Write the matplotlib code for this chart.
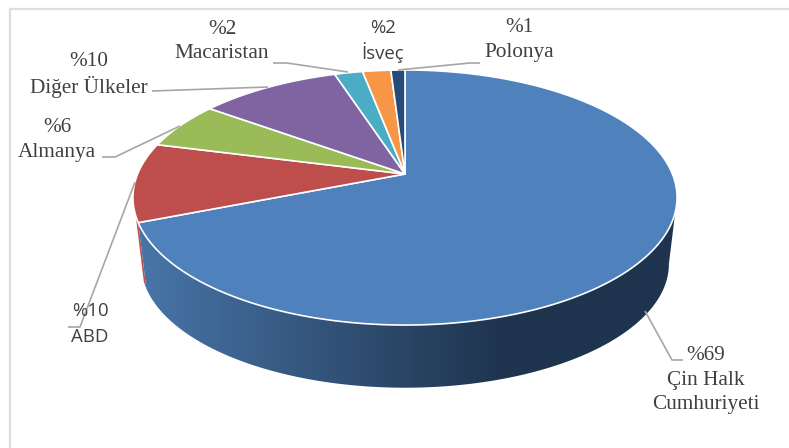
import numpy as np
import matplotlib
matplotlib.use("Agg")
import matplotlib.pyplot as plt
from matplotlib.patches import Polygon

countries = ["Çin Halk\nCumhuriyeti", "ABD", "Almanya", "Diğer Ülkeler", "Macaristan", "İsveç", "Polonya"]
shares = [69, 10, 6, 10, 2, 2, 1]
colors = ["#4f81bd", "#bd4e4b", "#9bbb59", "#8064a2", "#4bacc6", "#f79646", "#264b78"]

# pie geometry in pixels, the tilted disc is a perspective view of a circle
CX, CY = 405, 174
A, B, K = 267.4, 123.2, 0.1843
ELL_Y = 197.5
DEPTH_S, DEPTH_Y = 0.97, 264
WALL_START = 100.6  # rightmost point of the disc, degrees from the top


def top_points(t0, t1):
    t = np.radians(np.linspace(t0, t1, max(int(abs(t1 - t0) * 2), 2)))
    u, v = np.sin(t), np.cos(t)
    w = 1 + K * v
    return CX + A * u / w, CY - B * v / w


def bottom_points(x, y):
    return CX + DEPTH_S * (x - CX), DEPTH_Y + DEPTH_S * (y - ELL_Y)


fig = plt.figure(figsize=(7.89, 4.48), dpi=100)
ax = fig.add_axes([0, 0, 1, 1])
ax.set_xlim(0, 789)
ax.set_ylim(448, 0)
ax.axis("off")

# frame
ax.plot([10, 10], [448, 9.5], color="#dedede", lw=1.6, zorder=1)
ax.plot([10, 789], [9.5, 9.5], color="#dedede", lw=1.6, zorder=1)

edges = np.cumsum([0] + shares) * 3.6

# red sliver behind the blue wall
x, y = top_points(edges[1], edges[1] + 3)
bx, by = bottom_points(x, y)
ax.add_patch(Polygon(np.r_[np.c_[x, y], np.c_[bx, by][::-1]], fc=colors[1], ec="none", zorder=2))

# blue wall with the shading running left to right
x, y = top_points(WALL_START, edges[1])
bx, by = bottom_points(x, y)
wall = Polygon(np.r_[np.c_[x, y], np.c_[bx, by][::-1]], fc="none", ec="none", zorder=3)
ax.add_patch(wall)
stops = np.interp(np.linspace(0, 1, 256), [0, 0.3, 0.5, 0.68, 1], [0, 0.45, 0.75, 1, 1])
left, right = np.array([0x48, 0x75, 0xa8]), np.array([0x1f, 0x34, 0x4e])
grad = (left + (right - left) * stops[:, None]) / 255
im = ax.imshow(grad[None, :, :], extent=[139, 677, 448, 0], aspect="auto", zorder=3)
im.set_clip_path(wall)
ax.set_xlim(0, 789)
ax.set_ylim(448, 0)

# top faces
for i, c in enumerate(colors):
    x, y = top_points(edges[i], edges[i + 1])
    pts = np.r_[[[CX, CY]], np.c_[x, y]]
    ax.add_patch(Polygon(pts, closed=True, fc=c, ec="white", lw=1.2, joinstyle="round", zorder=4))

# leader lines
leaders = [
    ([645, 672, 683], [311, 360, 360]),
    ([135, 80, 68], [182, 327, 327]),
    ([180, 115, 102], [126, 157, 157]),
    ([268, 152], [87, 91]),
    ([348, 287, 273], [72, 63, 63]),
    ([398, 470, 480], [70, 63, 63]),
]
for lx, ly in leaders:
    ax.plot(lx, ly, color="#a6a6a6", lw=1.2, zorder=5, solid_capstyle="butt")

SERIF = "Liberation Serif"
SANS = "Open Sans"
label_pos = [
    (706, 355, 25, SERIF),
    (90, 311, 26, SANS),
    (57, 128, 25, SERIF),
    (89, 62, 25, SERIF),
    (222, 29, 24, SERIF),
    (383, 28, 25, SANS),
    (519, 28, 25, SERIF),
]
for name, share, (lx, ly, gap, fam) in zip(countries, shares, label_pos):
    size = 15.3 if fam == SERIF else 13.4
    ax.text(lx, ly, f"%{share}", ha="center", va="center", family=fam, fontsize=size, color="#404040", zorder=6)
    for j, part in enumerate(name.split("\n")):
        ax.text(lx, ly + gap * (j + 1), part, ha="center", va="center", family=fam, fontsize=size,
                color="#404040", zorder=6)

fig.savefig("out.png", dpi=100)
